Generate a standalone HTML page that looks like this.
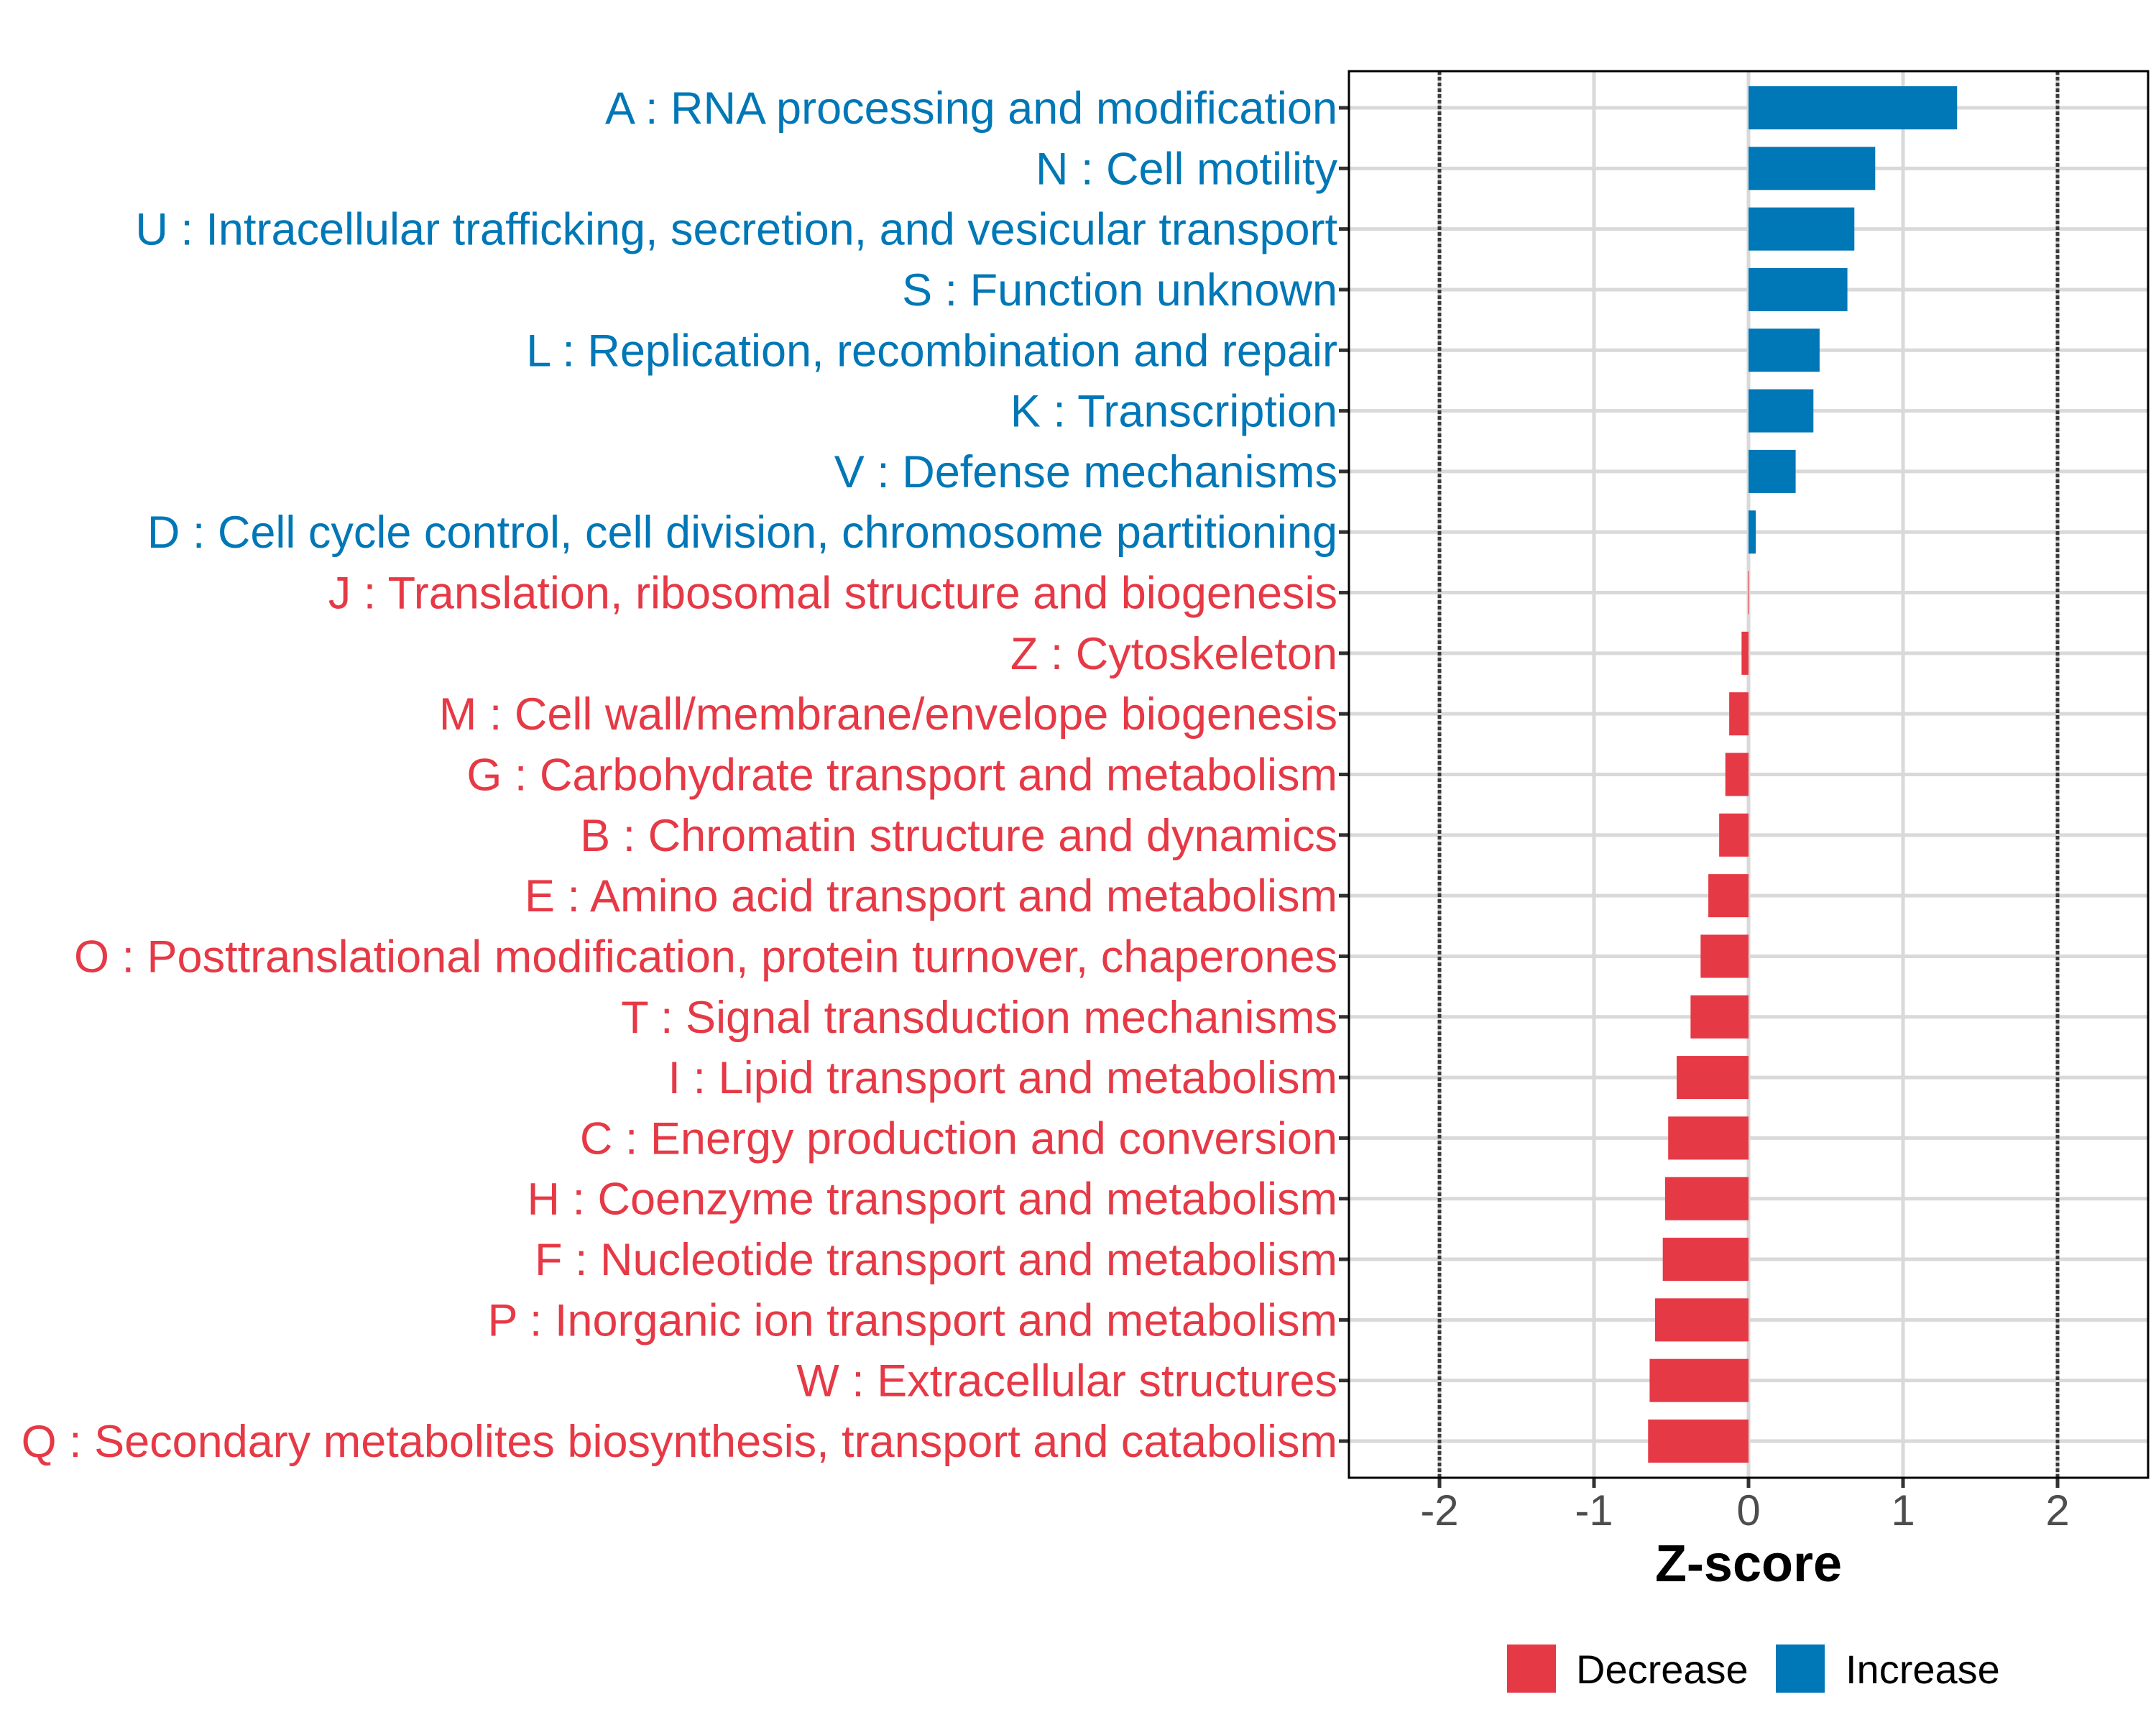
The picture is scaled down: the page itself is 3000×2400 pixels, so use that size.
<!DOCTYPE html>
<html><head><meta charset="utf-8"><style>
html,body{margin:0;padding:0;background:#fff;}
svg{display:block;font-family:"Liberation Sans",Arial,sans-serif;}
</style></head><body>
<svg id="chart" width="3000" height="2400" viewBox="0 0 3000 2400" xmlns="http://www.w3.org/2000/svg">
<g id="grid"></g>
<g id="bars"></g>
<g id="ylabels"></g>
<g id="xaxis"></g>
<text x="2433" y="2200" text-anchor="middle" font-size="72" font-weight="bold" fill="#000">Z-score</text>
<g>
<rect x="2097" y="2288" width="68" height="67" fill="#E63946"/>
<text x="2193" y="2342" font-size="56" fill="#000">Decrease</text>
<rect x="2471" y="2288" width="68" height="67" fill="#0077B6"/>
<text x="2568" y="2342" font-size="56" fill="#000">Increase</text>
</g>
</svg>
<script>
const categories = [
"A : RNA processing and modification",
"N : Cell motility",
"U : Intracellular trafficking, secretion, and vesicular transport",
"S : Function unknown",
"L : Replication, recombination and repair",
"K : Transcription",
"V : Defense mechanisms",
"D : Cell cycle control, cell division, chromosome partitioning",
"J : Translation, ribosomal structure and biogenesis",
"Z : Cytoskeleton",
"M : Cell wall/membrane/envelope biogenesis",
"G : Carbohydrate transport and metabolism",
"B : Chromatin structure and dynamics",
"E : Amino acid transport and metabolism",
"O : Posttranslational modification, protein turnover, chaperones",
"T : Signal transduction mechanisms",
"I : Lipid transport and metabolism",
"C : Energy production and conversion",
"H : Coenzyme transport and metabolism",
"F : Nucleotide transport and metabolism",
"P : Inorganic ion transport and metabolism",
"W : Extracellular structures",
"Q : Secondary metabolites biosynthesis, transport and catabolism"
];
const zscores = [1.35,0.82,0.685,0.64,0.46,0.42,0.305,0.047,-0.003,-0.045,-0.125,-0.15,-0.19,-0.26,-0.31,-0.375,-0.465,-0.52,-0.54,-0.555,-0.605,-0.64,-0.65];
const xTicks = [-2,-1,0,1,2];
const xTickLabels = ["-2","-1","0","1","2"];
const dashedAt = [-2,2];

const NS="http://www.w3.org/2000/svg";
const L=1877,R=2989,T=99,B=2056;
const x0=2433,unit=215;
function xs(v){return x0+v*unit;}
const rowTop=150,rowStep=(2005-150)/22;
function ys(i){return rowTop+i*rowStep;}
function mk(tag,attrs,parent){const e=document.createElementNS(NS,tag);for(const k in attrs)e.setAttribute(k,attrs[k]);parent.appendChild(e);return e;}
const grid=document.getElementById('grid'),bars=document.getElementById('bars'),yl=document.getElementById('ylabels'),xa=document.getElementById('xaxis');
const svg=document.getElementById('chart');
xTicks.forEach(v=>{const e=mk('line',{x1:xs(v),x2:xs(v),y1:T,y2:B,stroke:'#D9D9D9','stroke-width':5},grid);

});
categories.forEach((c,i)=>{const e=mk('line',{x1:L,x2:R,y1:ys(i),y2:ys(i),stroke:'#D9D9D9','stroke-width':5},grid);

});
dashedAt.forEach(v=>{const e=mk('line',{x1:xs(v),x2:xs(v),y1:T,y2:B,stroke:'#3a3a3a','stroke-width':5,'stroke-dasharray':'5 3'},grid);

});
const bh=60;
zscores.forEach((v,i)=>{const col=v>=0?'#0077B6':'#E63946';
const xa1=Math.min(xs(0),xs(v)),w=Math.max(Math.abs(xs(v)-xs(0)),1);
const r=mk('rect',{x:xa1,y:ys(i)-bh/2,width:w,height:bh,fill:col},bars);


const t=mk('text',{x:1861,y:ys(i)+22,'text-anchor':'end','font-size':63,fill:col},yl);
t.textContent=categories[i];


const tk=mk('line',{x1:1863,x2:L,y1:ys(i),y2:ys(i),stroke:'#333','stroke-width':5},yl);

});
const br=mk('rect',{x:L,y:T,width:R-L,height:B-T,fill:'none',stroke:'#000','stroke-width':3},svg);


xTicks.forEach((v,i)=>{const tk=mk('line',{x1:xs(v),x2:xs(v),y1:B,y2:B+14,stroke:'#333','stroke-width':5},xa);


const t=mk('text',{x:xs(v),y:2122,'text-anchor':'middle','font-size':60,fill:'#4D4D4D'},xa);
t.textContent=xTickLabels[i];

});
</script>
</body></html>
